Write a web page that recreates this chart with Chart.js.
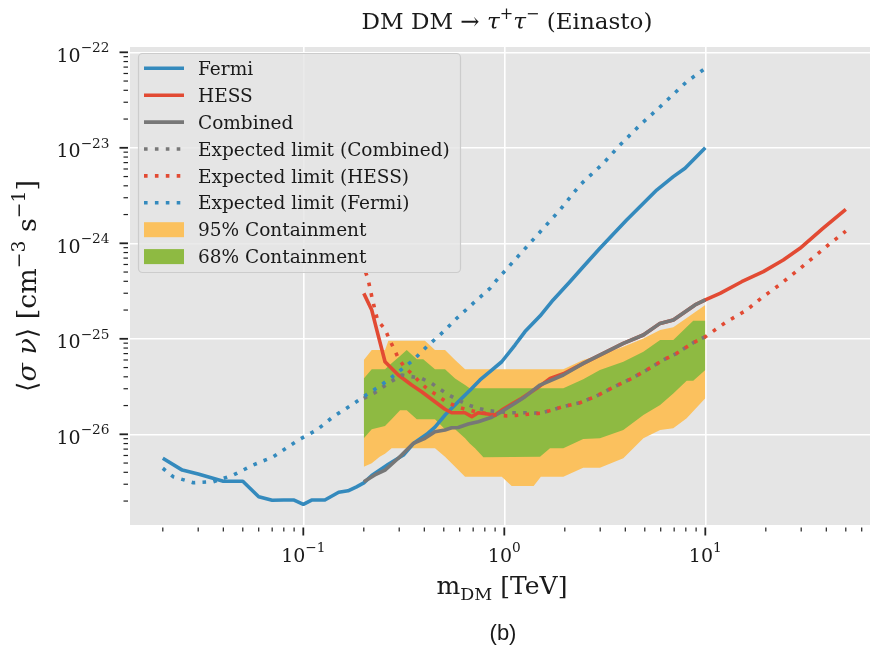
<!DOCTYPE html>
<html><head><meta charset="utf-8">
<script src="https://cdn.jsdelivr.net/npm/chart.js@4.4.1/dist/chart.umd.min.js"></script>
<style>html,body{margin:0;padding:0;background:#fff;overflow:hidden}canvas{display:block}</style>
</head><body>
<canvas id="c" width="870" height="648"></canvas>
<script>
// ---------------- data ----------------
const fermiX = [0.02,0.025,0.03,0.04,0.05,0.06,0.07,0.08,0.09,0.1,0.11,0.128,0.15,0.167,0.184,0.2,0.219,0.265,0.315,0.353,0.411,0.452,0.507,0.59,0.677,0.757,0.866,0.971,1.13,1.268,1.505,1.75,2.12,2.47,2.99,4.06,5.73,6.93,7.93,10];
const fermiY = [5.61e-27,4.22e-27,3.84e-27,3.22e-27,3.22e-27,2.22e-27,2.04e-27,2.05e-27,2.05e-27,1.85e-27,2.05e-27,2.05e-27,2.47e-27,2.56e-27,2.82e-27,3.1e-27,3.7e-27,4.85e-27,6.07e-27,8.0e-27,1.0e-26,1.19e-26,1.59e-26,2.19e-26,2.91e-26,3.71e-26,4.71e-26,5.75e-26,8.61e-26,1.19e-25,1.73e-25,2.55e-25,3.96e-25,5.69e-25,8.87e-25,1.75e-24,3.61e-24,4.99e-24,6.11e-24,1.0e-23];

const hessX = [0.2,0.219,0.232,0.255,0.297,0.346,0.388,0.452,0.507,0.547,0.637,0.689,0.742,0.899,0.971,1.089,1.221,1.45,1.69,1.966,2.472,3.108,3.909,4.915,5.952,6.931,8.889,10,11.84,15.17,19.44,24.43,29.6,38.6,50];
const hessY = [2.99e-25,2.0e-25,1.24e-25,5.75e-26,4.18e-26,3.28e-26,2.79e-26,2.19e-26,1.83e-26,1.68e-26,1.68e-26,1.53e-26,1.68e-26,1.59e-26,1.79e-26,2.07e-26,2.38e-26,3.03e-26,3.85e-26,4.3e-26,5.53e-26,7.05e-26,8.97e-26,1.096e-25,1.45e-25,1.57e-25,2.26e-25,2.55e-25,2.99e-25,3.96e-25,5.05e-25,6.68e-25,8.87e-25,1.44e-24,2.27e-24];

const combX = [0.2,0.227,0.255,0.297,0.353,0.403,0.452,0.507,0.547,0.59,0.662,0.742,0.866,0.971,1.13,1.268,1.505,1.966,2.472,3.108,3.909,4.915,5.952,6.931,8.889,10];
const combY = [3.19e-27,3.75e-27,4.22e-27,5.61e-27,8.05e-27,9.08e-27,1.065e-26,1.11e-26,1.17e-26,1.18e-26,1.28e-26,1.355e-26,1.51e-26,1.73e-26,2.11e-26,2.48e-26,3.28e-26,4.18e-26,5.53e-26,7.05e-26,8.97e-26,1.096e-25,1.45e-25,1.57e-25,2.26e-25,2.55e-25];

const combExpX = [0.2,0.227,0.265,0.309,0.388,0.435,0.479,0.531,0.59,0.662,0.742,0.833,1.067,1.197,1.342,1.505,1.688,1.966,2.38,2.88,3.49,4.22,5.11,6.18,7.21,8.71,10];
const combExpY = [2.38e-26,2.73e-26,3.42e-26,4.18e-26,3.85e-26,3.42e-26,2.96e-26,2.58e-26,2.28e-26,2.03e-26,1.87e-26,1.77e-26,1.68e-26,1.68e-26,1.68e-26,1.66e-26,1.77e-26,1.95e-26,2.14e-26,2.52e-26,3.11e-26,3.77e-26,4.71e-26,6.0e-26,7.05e-26,9.1e-26,1.05e-25];

const hessExpX = [0.2,0.21,0.221,0.234,0.255,0.268,0.283,0.297,0.318,0.3485,0.381,0.416,0.461,0.507,0.569,0.638,0.715,0.802,0.899,1.028,1.153,1.316,1.505,1.688,1.966,2.38,2.88,3.49,4.22,5.11,6.18,7.21,8.71,10,12.78,16.07,19.08,23.35,28.3,34.1,40.9,50];
const hessExpY = [5.65e-25,4.2e-25,2.55e-25,1.57e-25,1.26e-25,9.88e-26,7.82e-26,6.25e-26,5.1e-26,4.25e-26,3.5e-26,2.96e-26,2.58e-26,2.23e-26,1.98e-26,1.83e-26,1.73e-26,1.66e-26,1.59e-26,1.56e-26,1.58e-26,1.62e-26,1.66e-26,1.77e-26,1.95e-26,2.14e-26,2.52e-26,3.11e-26,3.77e-26,4.71e-26,6.0e-26,7.05e-26,9.1e-26,1.05e-25,1.51e-25,2.0e-25,2.69e-25,3.66e-25,5.05e-25,6.97e-25,9.6e-25,1.34e-24];

const fermiExpX = [0.02,0.0225,0.0284,0.0357,0.0449,0.0564,0.071,0.0944,0.1166,0.141,0.174,0.2,0.241,0.292,0.353,0.411,0.498,0.58,0.701,0.849,0.917,1.89,2.38,3.11,3.70,4.73,5.73,6.80,8.08,10];
const fermiExpY = [4.41e-27,3.60e-27,3.11e-27,3.19e-27,3.75e-27,4.78e-27,5.82e-27,8.71e-27,1.109e-26,1.53e-26,2.03e-26,2.48e-26,3.21e-26,4.36e-26,6.0e-26,8.26e-26,1.186e-25,1.64e-25,2.36e-25,3.38e-25,4.13e-25,2.23e-24,4.08e-24,6.88e-24,1.03e-23,1.73e-23,2.49e-23,3.49e-23,4.92e-23,6.79e-23];

const band95X = [0.2,0.219,0.24,0.255,0.265,0.275,0.403,0.452,0.507,0.569,0.638,0.971,1.088,1.40,1.52,1.966,2.47,2.99,3.91,4.92,5.96,6.93,8.08,10];
const band95Upper = [6.0e-26,7.63e-26,7.63e-26,7.63e-26,9.55e-26,9.55e-26,9.55e-26,7.63e-26,7.63e-26,6.0e-26,4.80e-26,4.80e-26,4.80e-26,4.80e-26,4.80e-26,4.80e-26,6.0e-26,6.76e-26,8.26e-26,1.01e-25,1.24e-25,1.32e-25,1.65e-25,2.26e-25];
const band95Lower = [4.58e-27,4.97e-27,5.83e-27,6.24e-27,6.68e-27,7.14e-27,7.14e-27,7.14e-27,5.83e-27,4.58e-27,3.60e-27,3.60e-27,2.88e-27,2.88e-27,3.60e-27,3.60e-27,4.47e-27,4.47e-27,5.61e-27,9.08e-27,1.11e-26,1.156e-26,1.47e-26,2.38e-26];

const band68X = [0.2,0.219,0.255,0.275,0.303,0.327,0.367,0.395,0.452,0.507,0.569,0.638,0.673,0.715,0.787,1.505,1.688,1.966,2.47,2.99,3.91,4.92,5.96,6.93,8.08,8.71,10];
const band68Upper = [3.85e-26,4.80e-26,4.80e-26,5.53e-26,6.61e-26,7.63e-26,6.09e-26,6.09e-26,4.80e-26,4.80e-26,3.85e-26,3.28e-26,3.03e-26,3.03e-26,3.03e-26,3.03e-26,3.03e-26,3.03e-26,3.77e-26,4.71e-26,5.75e-26,7.33e-26,9.7e-26,9.7e-26,1.33e-25,1.55e-25,1.55e-25];
const band68Lower = [9.08e-27,1.13e-26,1.22e-26,1.44e-26,1.79e-26,1.79e-26,1.44e-26,1.44e-26,1.44e-26,1.13e-26,1.13e-26,9.08e-27,8.0e-27,7.14e-27,5.74e-27,5.83e-27,7.14e-27,7.14e-27,8.93e-27,9.08e-27,1.11e-26,1.59e-26,2.03e-26,2.67e-26,3.64e-26,3.64e-26,4.71e-26];

const xTickExponents = [-1, 0, 1];
const yTickExponents = [-22, -23, -24, -25, -26];
const legendLabels = ['Fermi','HESS','Combined','Expected limit (Combined)','Expected limit (HESS)','Expected limit (Fermi)','95% Containment','68% Containment'];

// ---------------- styling ----------------
const C = {fermi:'#348ABD', hess:'#E24A33', comb:'#777777', c95:'#FBC15E', c68:'#8EBA42', bg:'#E5E5E5'};
const LW = 3.6;
const DOT = [3.6, 7.3];
const SERIF = '"DejaVu Serif", serif';
const MINUS = '\u2212';

function pts(xs, ys){ return xs.map((x,i)=>({x:x, y:ys[i]})); }
function isPow10(v){ const l=Math.log10(v); return Math.abs(l-Math.round(l))<1e-6; }
function logTicks(min,max){
  const out=[];
  for(let e=Math.floor(Math.log10(min)); e<=Math.ceil(Math.log10(max)); e++){
    for(let m=1;m<10;m++){
      const v = m*Math.pow(10,e);
      if(v>=min*0.99999 && v<=max*1.00001) out.push({value:v, major:m===1});
    }
  }
  return out;
}

function fnt(p,s){ return (p.i?'italic ':'') + (s*(p.r||1)).toFixed(2) + 'px ' + (p.f||SERIF); }
function richWidth(ctx,parts,s){ let w=0; for(const p of parts){ ctx.font=fnt(p,s); w+=ctx.measureText(p.t).width; } return w; }
function drawRich(ctx,parts,x,y,s,align){
  const w = richWidth(ctx,parts,s);
  let cx = align==='center' ? x-w/2 : (align==='right' ? x-w : x);
  ctx.textAlign='left'; ctx.textBaseline='alphabetic';
  for(const p of parts){ ctx.font=fnt(p,s); ctx.fillText(p.t, cx, y+(p.dy||0)*s); cx+=ctx.measureText(p.t).width; }
  return w;
}
function fitSize(ctx,parts,target){ return 100*target/richWidth(ctx,parts,100); }

const X_MIN = Math.pow(10,-1.8622), X_MAX = Math.pow(10,1.8194);
const Y_MIN = Math.pow(10,-26.9497), Y_MAX = Math.pow(10,-21.9445);

const datasets = [
  {label:'95% Containment', data:pts(band95X,band95Upper), borderColor:'rgba(0,0,0,0)', borderWidth:0, backgroundColor:C.c95, fill:'+1', order:8},
  {label:'_lo95', data:pts(band95X,band95Lower), borderColor:'rgba(0,0,0,0)', borderWidth:0, fill:false, order:8},
  {label:'68% Containment', data:pts(band68X,band68Upper), borderColor:'rgba(0,0,0,0)', borderWidth:0, backgroundColor:C.c68, fill:'+1', order:7},
  {label:'_lo68', data:pts(band68X,band68Lower), borderColor:'rgba(0,0,0,0)', borderWidth:0, fill:false, order:7},
  {label:'Fermi', data:pts(fermiX,fermiY), borderColor:C.fermi, borderWidth:LW, fill:false, order:6},
  {label:'HESS', data:pts(hessX,hessY), borderColor:C.hess, borderWidth:LW, fill:false, order:5},
  {label:'Combined', data:pts(combX,combY), borderColor:C.comb, borderWidth:LW, fill:false, order:4},
  {label:'Expected limit (Combined)', data:pts(combExpX,combExpY), borderColor:C.comb, borderWidth:LW, borderDash:DOT, fill:false, order:3},
  {label:'Expected limit (HESS)', data:pts(hessExpX,hessExpY), borderColor:C.hess, borderWidth:LW, borderDash:DOT, borderDashOffset:5.4, fill:false, order:2},
  {label:'Expected limit (Fermi)', data:pts(fermiExpX,fermiExpY), borderColor:C.fermi, borderWidth:LW, borderDash:DOT, fill:false, order:1}
];

const deco = {
  id:'deco',
  beforeDraw(chart){
    const ctx=chart.ctx, a=chart.chartArea;
    ctx.save();
    ctx.fillStyle='#ffffff'; ctx.fillRect(0,0,chart.width,chart.height);
    ctx.fillStyle=C.bg; ctx.fillRect(a.left,a.top,a.right-a.left,a.bottom-a.top);
    ctx.restore();
  },
  afterDraw(chart){
    const ctx=chart.ctx, a=chart.chartArea, xs=chart.scales.x, ys=chart.scales.y;
    ctx.save();
    // tick marks
    ctx.strokeStyle='#222';
    for(const t of xs.ticks){
      const px=xs.getPixelForValue(t.value); const maj=isPow10(t.value);
      ctx.lineWidth = maj?1.8:1.2;
      ctx.beginPath(); ctx.moveTo(px,a.bottom+2.5); ctx.lineTo(px,a.bottom+2.5+(maj?8:4)); ctx.stroke();
    }
    for(const t of ys.ticks){
      const py=ys.getPixelForValue(t.value); const maj=isPow10(t.value);
      ctx.lineWidth = maj?1.8:1.2;
      ctx.beginPath(); ctx.moveTo(a.left-2,py); ctx.lineTo(a.left-2-(maj?8.5:4.5),py); ctx.stroke();
    }
    // tick labels
    ctx.fillStyle='#1a1a1a';
    for(const e of xTickExponents){
      const px=xs.getPixelForValue(Math.pow(10,e));
      drawRich(ctx,[{t:'10'},{t:(e<0?MINUS:'')+Math.abs(e),r:0.72,dy:-0.5}],px,561.7,19,'center');
    }
    for(const e of yTickExponents){
      const py=ys.getPixelForValue(Math.pow(10,e));
      drawRich(ctx,[{t:'10'},{t:MINUS+Math.abs(e),r:0.72,dy:-0.5}],109.5,py+9.4,19,'right');
    }
    // title
    const titleParts=[{t:'DM DM \u2192 '},{t:'\u03C4',i:1},{t:'+',r:0.7,dy:-0.42},{t:'\u03C4',i:1},{t:MINUS,r:0.7,dy:-0.42},{t:' (Einasto)'}];
    drawRich(ctx,titleParts,507,28.5,fitSize(ctx,titleParts,291),'center');
    // x label
    const xl=[{t:'m'},{t:'DM',r:0.7,dy:0.22},{t:' [TeV]'}];
    drawRich(ctx,xl,502,594,fitSize(ctx,xl,131),'center');
    // y label
    const yl=[{t:'\u27E8'},{t:'\u03C3',i:1},{t:' '},{t:'\u03BD',i:1},{t:'\u27E9 [cm'},{t:MINUS+'3',r:0.7,dy:-0.42},{t:' s'},{t:MINUS+'1',r:0.7,dy:-0.42},{t:']'}];
    const ysz=fitSize(ctx,yl,212);
    ctx.save(); ctx.translate(36,286); ctx.rotate(-Math.PI/2); drawRich(ctx,yl,0,0,ysz,'center'); ctx.restore();
    // caption
    drawRich(ctx,[{t:'(b)',f:'"Liberation Sans", Arial, sans-serif'}],503,640,22,'center');
    // legend
    const lx=138, ly=53, lw=322, lh=219;
    ctx.beginPath(); ctx.roundRect(lx+0.5,ly+0.5,lw,lh,4);
    ctx.fillStyle='rgba(229,229,229,0.8)'; ctx.fill();
    ctx.strokeStyle='#cccccc'; ctx.lineWidth=1.2; ctx.stroke();
    const lsz=fitSize(ctx,[{t:'Expected limit (Combined)'}],252);
    legendLabels.forEach((lab,i)=>{
      const ds=chart.data.datasets.find(d=>d.label===lab);
      const ry=68.3+i*26.9;
      if(lab.indexOf('Containment')>=0){
        ctx.fillStyle=ds.backgroundColor; ctx.fillRect(144,ry-7.5,40,15);
      } else {
        ctx.save();
        ctx.strokeStyle=ds.borderColor; ctx.lineWidth=ds.borderWidth; ctx.lineCap='butt';
        if(ds.borderDash) ctx.setLineDash(ds.borderDash);
        ctx.beginPath(); ctx.moveTo(144,ry); ctx.lineTo(184,ry); ctx.stroke();
        ctx.restore();
      }
      ctx.fillStyle='#1a1a1a';
      drawRich(ctx,[{t:lab}],198,ry+6.6,lsz,'left');
    });
    ctx.restore();
  }
};

const gridOpts = {
  color: c => (c.tick && isPow10(c.tick.value)) ? '#ffffff' : 'rgba(0,0,0,0)',
  lineWidth: 1.6, drawTicks:false
};

new Chart(document.getElementById('c'), {
  type:'line',
  data:{datasets:datasets},
  options:{
    responsive:false, devicePixelRatio:1, animation:false, events:[],
    layout:{padding:{left:130,right:0,top:47,bottom:123}},
    elements:{point:{radius:0}, line:{tension:0, borderCapStyle:'butt', borderJoinStyle:'round'}},
    plugins:{legend:{display:false}, tooltip:{enabled:false}, title:{display:false}},
    scales:{
      x:{type:'logarithmic', min:X_MIN, max:X_MAX, ticks:{display:false}, grid:gridOpts, border:{display:false},
         afterBuildTicks: s => { s.ticks = logTicks(X_MIN, X_MAX); }},
      y:{type:'logarithmic', min:Y_MIN, max:Y_MAX, ticks:{display:false}, grid:gridOpts, border:{display:false},
         afterBuildTicks: s => { s.ticks = logTicks(Y_MIN, Y_MAX); }}
    }
  },
  plugins:[deco]
});
</script>
</body></html>
